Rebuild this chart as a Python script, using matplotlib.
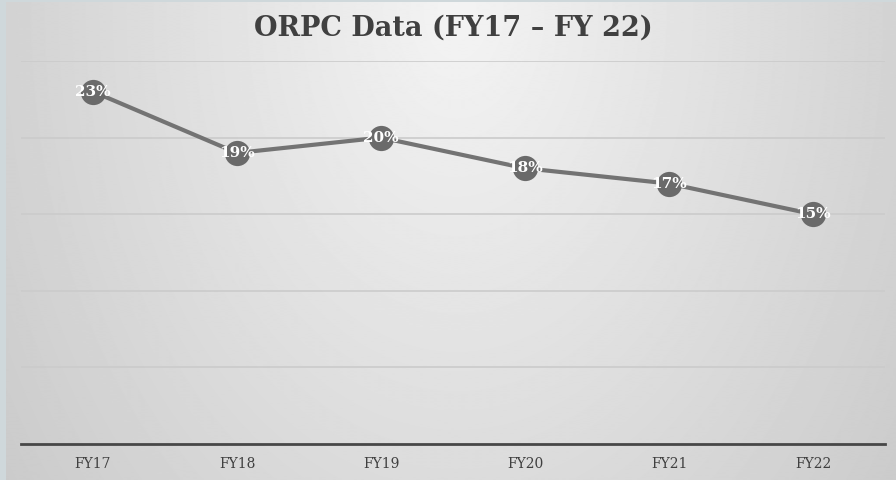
import numpy as np
import matplotlib
matplotlib.use("Agg")
import matplotlib.pyplot as plt

categories = ["FY17", "FY18", "FY19", "FY20", "FY21", "FY22"]
values = [23, 19, 20, 18, 17, 15]
labels = ["23%", "19%", "20%", "18%", "17%", "15%"]
title = "ORPC Data (FY17 – FY 22)"

W, H = 896, 480
fig = plt.figure(figsize=(W / 100, H / 100), dpi=100)
fig.patch.set_facecolor("#cfd8db")

# gradient background
bg = fig.add_axes([6 / W, 0, 1 - 6 / W, 1 - 2 / H])
bg.set_axis_off()
yy, xx = np.mgrid[0:480, 0:890]
cx, cy = 450, 10
d = np.sqrt(((xx - cx) / 450.0) ** 2 + ((yy - cy) / 650.0) ** 2)
val = 0.955 - 0.13 * np.clip(d, 0, 1.4)
bg.imshow(val, cmap="gray", vmin=0, vmax=1, aspect="auto", extent=[0, 1, 0, 1], origin="upper", interpolation="bilinear")
bg.set_xlim(0, 1)
bg.set_ylim(0, 1)

ax = fig.add_axes([21 / W, (H - 444) / H, 864 / W, (444 - 61) / H])
ax.patch.set_alpha(0)
x = np.arange(len(categories))
ax.plot(x, values, color="#737373", lw=3, zorder=3)
ax.scatter(x, values, s=330, color="#6a6a6a", zorder=4, linewidths=0)
for xi, v, lab in zip(x, values, labels):
    ax.text(xi, v, lab, ha="center", va="center", color="white", fontsize=11,
            fontweight="bold", family="DejaVu Serif", zorder=5)

ax.set_xlim(-0.5, 5.5)
ax.set_ylim(0, 25)
ax.set_yticks([5, 10, 15, 20, 25])
ax.yaxis.grid(True, color="#cbcbcb", lw=1.2)
ax.set_axisbelow(True)
ax.tick_params(axis="y", left=False, labelleft=False)
ax.set_xticks(x)
ax.set_xticklabels(categories, family="DejaVu Serif", fontsize=10, color="#404040")
ax.tick_params(axis="x", bottom=False, pad=6)
for s in ["top", "right", "left"]:
    ax.spines[s].set_visible(False)
ax.spines["bottom"].set_color("#474747")
ax.spines["bottom"].set_linewidth(2)

fig.text(453 / W, 1 - 28 / H, title, ha="center", va="center", fontsize=19.5,
         fontweight="bold", family="DejaVu Serif", color="#404040")

fig.savefig("out.png", dpi=100)
